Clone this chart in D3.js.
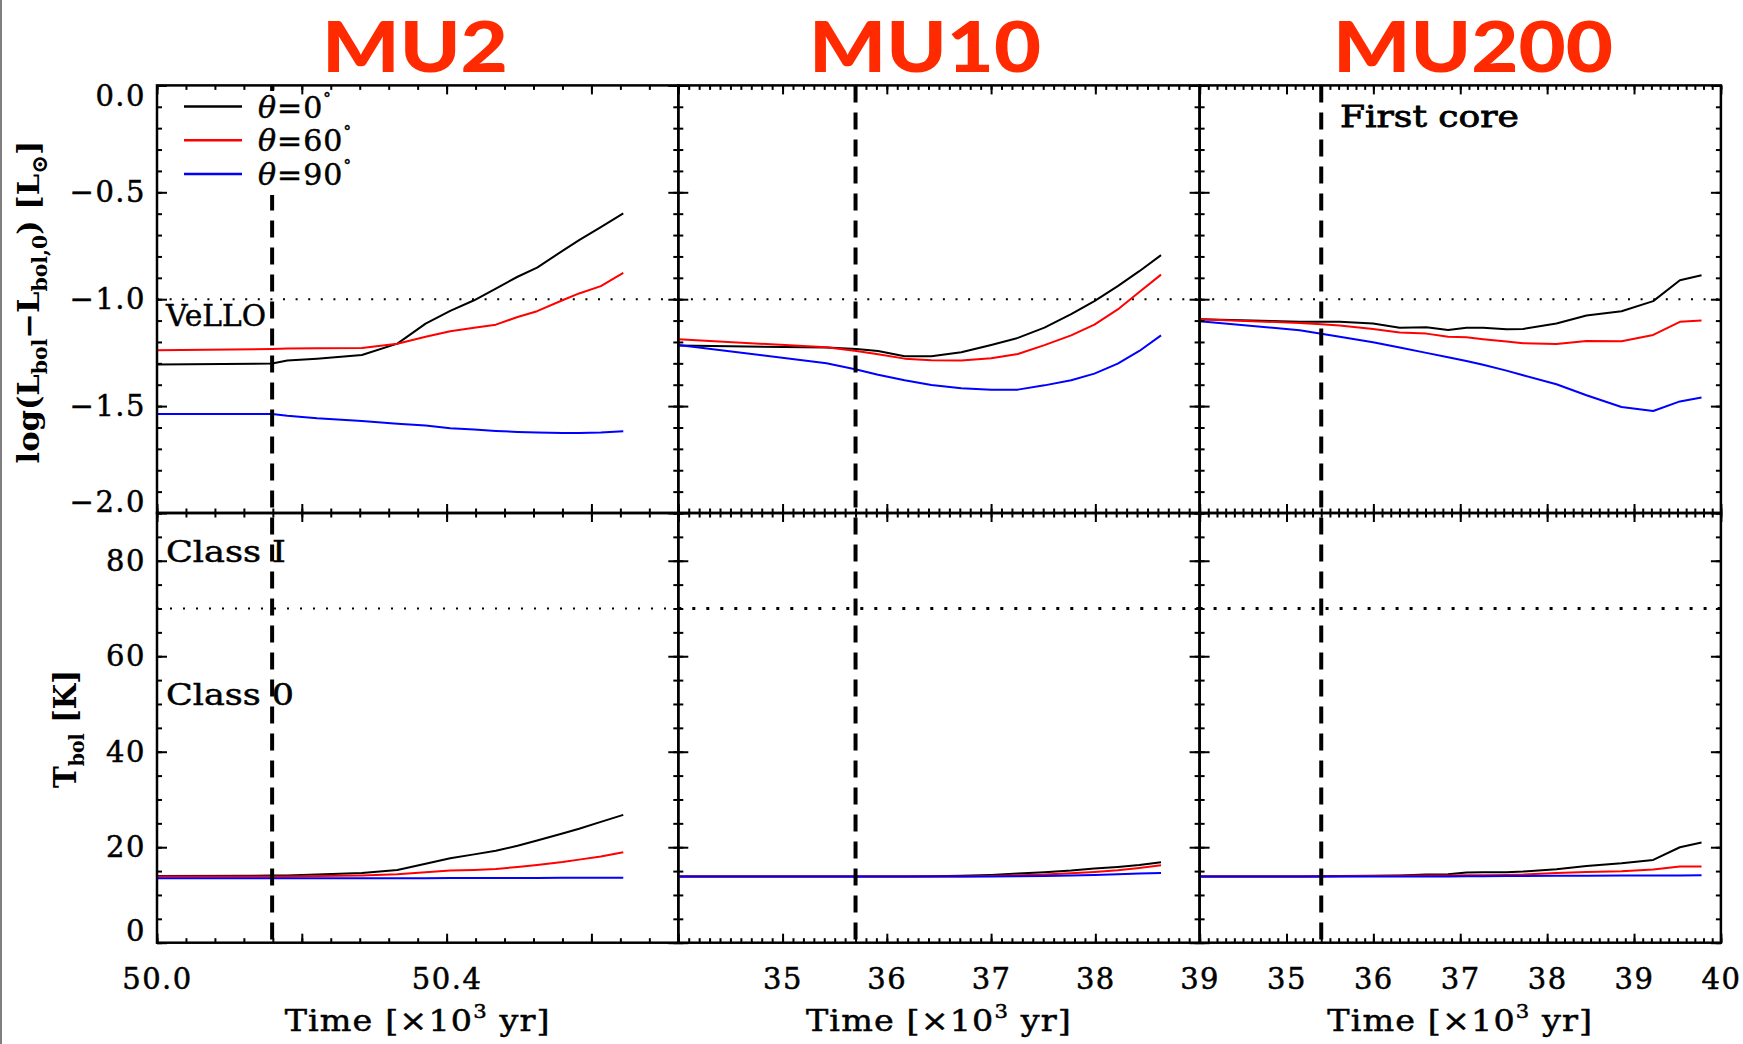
<!DOCTYPE html>
<html>
<head>
<meta charset="utf-8">
<script src="https://cdn.jsdelivr.net/npm/d3@7"></script>
<style>
  html, body { margin: 0; padding: 0; background: #fff; }
  svg { display: block; }
</style>
</head>
<body>
<svg id="chart" width="1743" height="1044"></svg>
<script>
// ---- Models (one column each) ----
const models = ["MU2", "MU10", "MU200"];
// time axis range of each column [x10^3 yr]
const timeRanges = [[50.0, 50.72], [34, 39], [34, 40]];
// time of first-core formation (vertical dashed marker)
const firstCoreTimes = [50.159, 35.70, 35.40];

// inclination of the line of sight, one series per angle
const inclinations = ["0", "60", "90"];
const seriesColors = ["#000000", "#ff0000", "#0000ff"];

// classification thresholds
const velloLimit = -1.0;   // log L (VeLLO boundary)
const classLimit = 70;     // Tbol [K] (Class 0 / Class I boundary)

// ---- Tick values and labels ----
const lumMajorTicks = [0.0, -0.5, -1.0, -1.5, -2.0];
const lumTickLabels = ["0.0", "\u22120.5", "\u22121.0", "\u22121.5", "\u22122.0"];
const tbolMajorTicks = [0, 20, 40, 60, 80];
const tbolTickLabels = ["0", "20", "40", "60", "80"];
const timeMajorTicks = [[50.0, 50.2, 50.4, 50.6], [34, 35, 36, 37, 38, 39], [34, 35, 36, 37, 38, 39, 40]];
const timeTickLabels = [["50.0", "", "50.4", ""], ["", "35", "36", "37", "38", "39"], ["", "35", "36", "37", "38", "39", "40"]];
const timeMinorSteps = [0.04, 0.1, 0.1];

// ---- MU2 ----
const timeMU2   = [50.000, 50.159, 50.180, 50.221, 50.283, 50.332, 50.371, 50.405, 50.438, 50.468, 50.498, 50.525, 50.560, 50.583, 50.613, 50.644];
const lumMU2_0  = [-1.306, -1.301, -1.287, -1.278, -1.261, -1.208, -1.114, -1.055, -1.005, -0.950, -0.895, -0.852, -0.774, -0.724, -0.663, -0.599];
const lumMU2_60 = [-1.239, -1.233, -1.231, -1.229, -1.228, -1.208, -1.176, -1.150, -1.134, -1.119, -1.083, -1.056, -1.005, -0.973, -0.939, -0.877];
const lumMU2_90 = [-1.537, -1.537, -1.545, -1.557, -1.570, -1.582, -1.591, -1.604, -1.610, -1.616, -1.621, -1.624, -1.626, -1.626, -1.624, -1.618];
const tbolMU2_0  = [13.98, 14.05, 14.10, 14.30, 14.60, 15.24, 16.54, 17.69, 18.50, 19.25, 20.30, 21.39, 22.88, 23.88, 25.30, 26.77];
const tbolMU2_60 = [13.84, 13.86, 13.88, 13.95, 14.10, 14.33, 14.75, 15.10, 15.25, 15.45, 15.85, 16.29, 16.90, 17.40, 18.04, 18.95];
const tbolMU2_90 = [13.50, 13.50, 13.50, 13.50, 13.50, 13.51, 13.52, 13.53, 13.54, 13.55, 13.56, 13.57, 13.58, 13.59, 13.60, 13.62];

// ---- MU10 ----
const timeMU10   = [34.000, 35.421, 35.708, 35.916, 36.171, 36.427, 36.714, 37.001, 37.257, 37.512, 37.768, 37.991, 38.215, 38.422, 38.630];
const lumMU10_0  = [-1.217, -1.226, -1.233, -1.242, -1.267, -1.267, -1.248, -1.214, -1.181, -1.133, -1.070, -1.009, -0.939, -0.869, -0.794];
const lumMU10_60 = [-1.187, -1.225, -1.242, -1.257, -1.278, -1.286, -1.287, -1.276, -1.256, -1.215, -1.169, -1.119, -1.048, -0.966, -0.885];
const lumMU10_90 = [-1.214, -1.300, -1.329, -1.353, -1.379, -1.401, -1.417, -1.423, -1.423, -1.403, -1.379, -1.348, -1.301, -1.242, -1.169];
const tbolMU10_0  = [13.84, 13.84, 13.84, 13.84, 13.85, 13.90, 14.00, 14.19, 14.47, 14.75, 15.10, 15.52, 15.87, 16.29, 16.85];
const tbolMU10_60 = [13.84, 13.84, 13.84, 13.84, 13.84, 13.84, 13.85, 13.98, 14.12, 14.26, 14.54, 14.82, 15.17, 15.66, 16.22];
const tbolMU10_90 = [13.84, 13.84, 13.84, 13.84, 13.84, 13.84, 13.84, 13.84, 13.91, 13.98, 14.05, 14.19, 14.33, 14.47, 14.61];

// ---- MU200 ----
const timeMU200   = [34.000, 35.152, 35.401, 35.612, 35.996, 36.303, 36.610, 36.860, 37.071, 37.263, 37.532, 37.724, 38.107, 38.453, 38.856, 39.221, 39.528, 39.777];
const lumMU200_0  = [-1.094, -1.105, -1.106, -1.106, -1.114, -1.134, -1.131, -1.144, -1.134, -1.134, -1.140, -1.139, -1.114, -1.076, -1.056, -1.009, -0.911, -0.888];
const lumMU200_60 = [-1.094, -1.111, -1.117, -1.123, -1.139, -1.156, -1.161, -1.176, -1.178, -1.187, -1.198, -1.206, -1.209, -1.195, -1.197, -1.167, -1.106, -1.100];
const lumMU200_90 = [-1.103, -1.145, -1.162, -1.176, -1.201, -1.226, -1.251, -1.272, -1.289, -1.307, -1.334, -1.356, -1.398, -1.449, -1.504, -1.523, -1.478, -1.460];
const tbolMU200_0  = [13.84, 13.84, 13.90, 13.95, 14.00, 14.10, 14.30, 14.35, 14.70, 14.75, 14.75, 14.90, 15.38, 16.08, 16.64, 17.34, 19.99, 20.97];
const tbolMU200_60 = [13.84, 13.84, 13.88, 13.90, 13.95, 14.00, 14.05, 14.10, 14.12, 14.15, 14.20, 14.26, 14.61, 14.80, 14.96, 15.31, 15.94, 15.94];
const tbolMU200_90 = [13.84, 13.84, 13.84, 13.84, 13.84, 13.84, 13.86, 13.88, 13.90, 13.92, 13.95, 13.97, 14.00, 14.03, 14.06, 14.08, 14.10, 14.12];

const panelData = [
  { time: timeMU2,   lum: [lumMU2_0, lumMU2_60, lumMU2_90],       tbol: [tbolMU2_0, tbolMU2_60, tbolMU2_90] },
  { time: timeMU10,  lum: [lumMU10_0, lumMU10_60, lumMU10_90],    tbol: [tbolMU10_0, tbolMU10_60, tbolMU10_90] },
  { time: timeMU200, lum: [lumMU200_0, lumMU200_60, lumMU200_90], tbol: [tbolMU200_0, tbolMU200_60, tbolMU200_90] }
];

// ---- Layout ----
const plotLeft = 157, panelWidth = 521.3;
const yTop = 85.4, yMid = 513, yBottom = 942.7;
const serif = "'DejaVu Serif', 'Liberation Serif', serif";
const titleCenters = [415, 925, 1473];
const titleWidths = [186, 232, 280];

const svg = d3.select("#chart");
svg.append("rect").attr("width", 1743).attr("height", 1044).attr("fill", "#fff");
svg.append("line").attr("x1", 1).attr("x2", 1).attr("y1", 0).attr("y2", 1044)
  .attr("stroke", "#555").attr("stroke-width", 1.5);

const lumScale = d3.scaleLinear().domain([-2, 0]).range([yMid, yTop]);
const tbolScale = d3.scaleLinear().domain([0, 90]).range([yBottom, yMid]);

// horizontal stretch factor that brings a text element to a given width
function stretchTo(sel, target) {
  const w = sel.node().getComputedTextLength();
  return w > 0 ? target / w : 1;
}

function drawAxis(axis, tx, ty, labelled) {
  const a = svg.append("g").attr("transform", `translate(${tx},${ty})`).call(axis);
  a.select(".domain").remove();
  a.selectAll("line").attr("stroke", "#000").attr("stroke-width", 2);
  if (labelled) {
    a.attr("font-family", serif).attr("font-size", 29);
    a.selectAll("text").attr("fill", "#000").attr("letter-spacing", 1.5)
      .attr("stroke", "#000").attr("stroke-width", 0.5);
  } else {
    a.selectAll("text").remove();
  }
  return a;
}

const lumMinor = d3.range(-2, 0.0001, 0.1).map(v => +v.toFixed(2));
const tbolMinor = d3.range(0, 90.01, 5);

panelData.forEach((p, i) => {
  const x0 = plotLeft + i * panelWidth, x1 = x0 + panelWidth;
  const x = d3.scaleLinear().domain(timeRanges[i]).range([x0, x1]);
  const g = svg.append("g");

  // threshold lines
  g.append("line")
    .attr("x1", x0).attr("x2", x1)
    .attr("y1", lumScale(velloLimit)).attr("y2", lumScale(velloLimit))
    .attr("stroke", "#000").attr("stroke-width", 2).attr("stroke-dasharray", "2,10.6");
  g.append("line")
    .attr("x1", x0).attr("x2", x1)
    .attr("y1", tbolScale(classLimit)).attr("y2", tbolScale(classLimit))
    .attr("stroke", "#000").attr("stroke-width", i === 0 ? 2 : 3)
    .attr("stroke-dasharray", i === 0 ? "2,11" : "3,11");

  // evolution curves
  const line = ys => d3.line().x(d => x(d[0])).y(d => ys(d[1]));
  p.lum.forEach((vals, k) => {
    g.append("path").datum(d3.zip(p.time, vals))
      .attr("d", line(lumScale)).attr("fill", "none")
      .attr("stroke", seriesColors[k]).attr("stroke-width", 2).attr("stroke-linejoin", "round");
  });
  p.tbol.forEach((vals, k) => {
    g.append("path").datum(d3.zip(p.time, vals))
      .attr("d", line(tbolScale)).attr("fill", "none")
      .attr("stroke", seriesColors[k]).attr("stroke-width", 2).attr("stroke-linejoin", "round");
  });

  // first-core marker
  g.append("line")
    .attr("x1", x(firstCoreTimes[i])).attr("x2", x(firstCoreTimes[i]))
    .attr("y1", yTop).attr("y2", yBottom)
    .attr("stroke", "#000").attr("stroke-width", 4).attr("stroke-dasharray", "17,10");

  if (i === 0) {
    // legend (opaque background)
    g.append("rect").attr("x", 172).attr("y", 91).attr("width", 195).attr("height", 104).attr("fill", "#fff");
    inclinations.forEach((ang, k) => {
      const ly = 106.5 + k * 33.7;
      g.append("line").attr("x1", 184).attr("x2", 242).attr("y1", ly).attr("y2", ly)
        .attr("stroke", seriesColors[k]).attr("stroke-width", 2.5);
      const t = g.append("text").attr("x", 258).attr("y", ly + 11)
        .attr("font-family", serif).attr("font-size", 30).attr("letter-spacing", 1)
        .attr("stroke", "#000").attr("stroke-width", 0.5);
      t.append("tspan").attr("font-style", "italic").text("\u03b8");
      t.append("tspan").text("=" + ang);
      t.append("tspan").attr("font-size", 15).attr("dy", -15).text("\u00b0");
    });
  }

  // ticks
  const tMinor = d3.range(timeRanges[i][0], timeRanges[i][1] + 1e-6, timeMinorSteps[i]).map(v => +v.toFixed(3));
  const tMajor = timeMajorTicks[i];
  [yTop, yMid].forEach(yy => {
    drawAxis(d3.axisTop(x).tickValues(tMinor).tickSize(-4.5).tickFormat(""), 0, yy, false);
    drawAxis(d3.axisTop(x).tickValues(tMajor).tickSize(-9).tickFormat(""), 0, yy, false);
  });
  [yMid, yBottom].forEach(yy => {
    drawAxis(d3.axisBottom(x).tickValues(tMinor).tickSize(-4.5).tickFormat(""), 0, yy, false);
  });
  drawAxis(d3.axisBottom(x).tickValues(tMajor).tickSize(-9).tickFormat(""), 0, yMid, false);
  drawAxis(d3.axisBottom(x).tickValues(tMajor).tickSize(-9).tickPadding(26)
    .tickFormat((d, j) => timeTickLabels[i][j]), 0, yBottom, true);

  // y ticks on both sides
  [[d3.axisLeft, x0], [d3.axisRight, x1]].forEach(([ax, xx]) => {
    drawAxis(ax(lumScale).tickValues(lumMinor).tickSize(-5).tickFormat(""), xx, 0, false);
    drawAxis(ax(tbolScale).tickValues(tbolMinor).tickSize(-5).tickFormat(""), xx, 0, false);
    const labelled = (i === 0 && ax === d3.axisLeft);
    const la = drawAxis(ax(lumScale).tickValues(lumMajorTicks).tickSize(-10).tickPadding(11)
      .tickFormat((d, j) => lumTickLabels[j]), xx, 0, labelled);
    const ta = drawAxis(ax(tbolScale).tickValues(tbolMajorTicks).tickSize(-10).tickPadding(11)
      .tickFormat((d, j) => tbolTickLabels[j]), xx, 0, labelled);
    if (labelled) {
      la.selectAll(".tick text").attr("transform", d => d === 0 ? "translate(0,11)" : d === -2 ? "translate(0,-11)" : null);
      ta.selectAll(".tick text").attr("transform", d => d === 0 ? "translate(0,-11)" : null);
    }
  });

  // frames
  [[yTop, yMid], [yMid, yBottom]].forEach(([a, b]) => {
    svg.append("rect").attr("x", x0).attr("y", a).attr("width", panelWidth).attr("height", b - a)
      .attr("fill", "none").attr("stroke", "#000").attr("stroke-width", 2.5);
  });

  // x-axis title
  const cx = (x0 + x1) / 2;
  const xt = svg.append("text").attr("x", 0).attr("y", 0)
    .attr("text-anchor", "middle").attr("font-family", serif).attr("font-size", 30)
    .attr("letter-spacing", 1).attr("stroke", "#000").attr("stroke-width", 0.5);
  xt.append("tspan").text("Time [\u00d710");
  xt.append("tspan").attr("font-size", 19).attr("dy", -13).text("3");
  xt.append("tspan").attr("dy", 13).text(" yr]");
  xt.attr("transform", `translate(${cx},1031) scale(${stretchTo(xt, 266)},1)`);

  // model title
  const tt = svg.append("text").attr("x", 0).attr("y", 0)
    .attr("text-anchor", "middle")
    .attr("font-family", "Lato, 'Open Sans', sans-serif").attr("font-weight", 900)
    .attr("font-size", 71).attr("fill", "#ff2a00")
    .text(models[i]);
  tt.attr("transform", `translate(${titleCenters[i]},72) scale(${stretchTo(tt, titleWidths[i])},1)`);
});

// region annotations
const notes = [
  { text: "VeLLO", x: 166, y: 326, w: 100, weight: 0.5 },
  { text: "Class I", x: 166, y: 562, w: 120, weight: 0.5 },
  { text: "Class 0", x: 166, y: 705, w: 128, weight: 0.5 },
  { text: "First core", x: 1340, y: 127, w: 179, weight: 0.8 }
];
notes.forEach(n => {
  const t = svg.append("text").attr("x", 0).attr("y", 0)
    .attr("font-family", serif).attr("font-size", 30)
    .attr("stroke", "#000").attr("stroke-width", n.weight)
    .text(n.text);
  t.attr("transform", `translate(${n.x},${n.y}) scale(${stretchTo(t, n.w)},1)`);
});

// y-axis titles
const yt1 = svg.append("text").attr("x", 0).attr("y", 0)
  .attr("text-anchor", "middle").attr("font-family", serif).attr("font-weight", "bold").attr("font-size", 30);
yt1.append("tspan").text("log(L");
yt1.append("tspan").attr("font-size", 20).attr("dy", 8).text("bol");
yt1.append("tspan").attr("dy", -8).text("\u2212L");
yt1.append("tspan").attr("font-size", 20).attr("dy", 8).text("bol,0");
yt1.append("tspan").attr("dy", -8).text(")  [L");
yt1.append("tspan").attr("font-size", 22).attr("dy", 8).text("\u2299");
yt1.append("tspan").attr("dy", -8).text("]");
yt1.attr("transform", `translate(39,302) rotate(-90) scale(${stretchTo(yt1, 323)},1)`);

const yt2 = svg.append("text").attr("x", 0).attr("y", 0)
  .attr("text-anchor", "middle").attr("font-family", serif).attr("font-weight", "bold").attr("font-size", 31);
yt2.append("tspan").text("T");
yt2.append("tspan").attr("font-size", 20).attr("dy", 8).text("bol");
yt2.append("tspan").attr("dy", -8).text("  [K]");
yt2.attr("transform", `translate(76,729) rotate(-90) scale(${stretchTo(yt2, 118)},1)`);
</script>
</body>
</html>
